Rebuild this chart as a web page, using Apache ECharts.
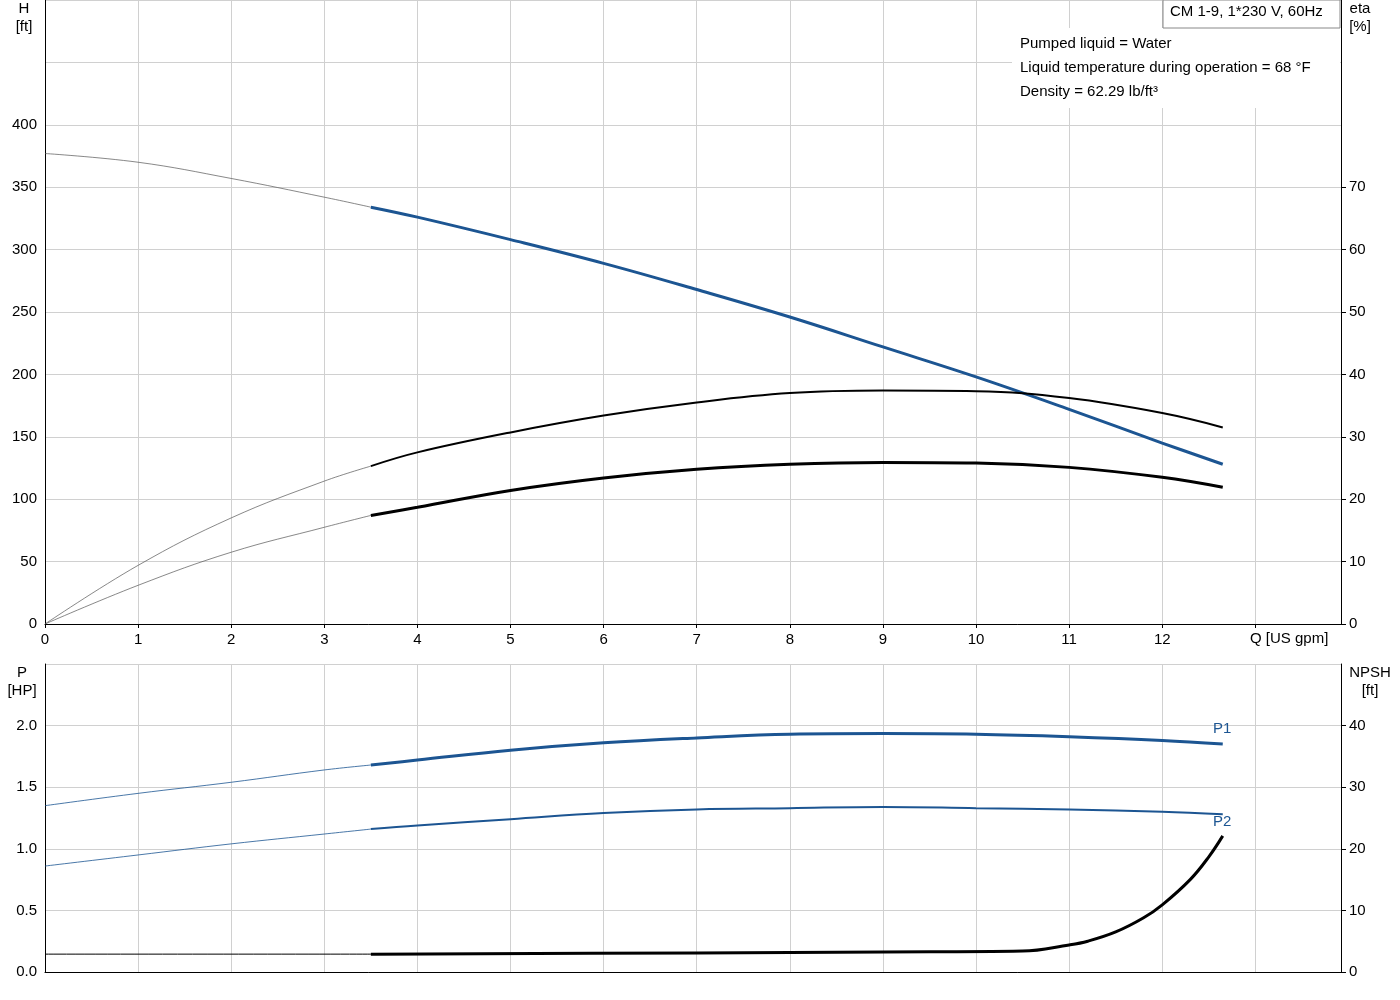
<!DOCTYPE html>
<html><head><meta charset="utf-8">
<script src="https://cdn.jsdelivr.net/npm/echarts@6/dist/echarts.min.js"></script>
<style>html,body{margin:0;padding:0;background:#fff}#c{width:1400px;height:1000px}</style>
</head><body><div id="c"></div>
<script>
const qThin=[0,1,2,3,3.5];
const qThick=[3.5,4,5,6,7,8,9,10,11,12,12.65];
const hThin=[377,370,357,342,334];
const hThick=[334,326,308,289,268,246,222,198,172,145,128];
const etaAThin=[0,9.4,17,22.9,25.3];
const etaAThick=[25.3,27.5,30.7,33.4,35.5,37,37.4,37.3,36.2,33.8,31.5];
const etaBThin=[0,6.2,11.5,15.5,17.4];
const etaBThick=[17.4,18.7,21.4,23.4,24.8,25.6,25.9,25.8,25.1,23.5,21.9];
const p1Thin=[1.35,1.45,1.54,1.64,1.68];
const p1Thick=[1.68,1.72,1.80,1.86,1.90,1.93,1.935,1.93,1.91,1.88,1.85];
const p2Thin=[0.86,0.95,1.04,1.12,1.16];
const p2Thick=[1.16,1.19,1.24,1.29,1.32,1.33,1.34,1.33,1.32,1.30,1.28];
const npshThinQ=[0,3.5];
const npshThin=[2.9,2.9];
const npshQ=[3.5,7,9,10.5,11,11.2,11.5,11.8,12,12.3,12.5,12.65];
const npsh=[2.9,3.1,3.25,3.4,4.4,5.0,6.5,8.8,10.9,15,18.7,22.1];
const z=(a,b)=>a.map((x,i)=>[x,b[i]]);
const blue='#1c5592';
const grid='#d0d0d0';
const font='"Liberation Sans", Arial, sans-serif';
const ch=echarts.init(document.getElementById('c'));
const xBase=(gi,show)=>({type:'value',gridIndex:gi,min:0,max:13.92,interval:1,
 axisLine:{show:true,onZero:false,lineStyle:{color:'#000'}},axisTick:{show:show,length:4,lineStyle:{color:'#000'}},
 splitLine:{show:true,lineStyle:{color:grid}},
 axisLabel:{show:show,color:'#000',fontSize:15,fontFamily:font,showMaxLabel:false,
  formatter:v=>v>=13?'':String(v)}});
const line=(x,y,d,c,w)=>({type:'line',xAxisIndex:x,yAxisIndex:y,data:d,showSymbol:false,symbol:'none',smooth:0.4,lineStyle:{color:c,width:w},silent:true,animation:false});
ch.setOption({
 animation:false,
 grid:[{left:45,right:59,top:0,height:624},{left:45,right:59,top:664,height:308}],
 xAxis:[xBase(0,true),xBase(1,false)],
 yAxis:[
  {type:'value',gridIndex:0,min:0,max:500,interval:50,axisLine:{show:true,lineStyle:{color:'#000'}},axisTick:{show:false},
   splitLine:{lineStyle:{color:grid}},axisLabel:{color:'#000',fontSize:15,fontFamily:font,formatter:v=>v>400?'':v}},
  {type:'value',gridIndex:0,position:'right',min:0,max:100,interval:10,axisLine:{show:true,lineStyle:{color:'#000'}},
   axisTick:{show:true,length:5,lineStyle:{color:'#000'},customValues:[0,10,20,30,40,50,60,70]},splitLine:{show:false},
   axisLabel:{color:'#000',fontSize:15,fontFamily:font,customValues:[0,10,20,30,40,50,60,70]}},
  {type:'value',gridIndex:1,min:0,max:2.5,interval:0.5,axisLine:{show:true,lineStyle:{color:'#000'}},axisTick:{show:false},
   splitLine:{lineStyle:{color:grid}},axisLabel:{color:'#000',fontSize:15,fontFamily:font,formatter:v=>v>2?'':v.toFixed(1)}},
  {type:'value',gridIndex:1,position:'right',min:0,max:50,interval:10,axisLine:{show:true,lineStyle:{color:'#000'}},
   axisTick:{show:true,length:5,lineStyle:{color:'#000'},customValues:[0,10,20,30,40]},splitLine:{show:false},
   axisLabel:{color:'#000',fontSize:15,fontFamily:font,customValues:[0,10,20,30,40]}}
 ],
 series:[
  line(0,0,z(qThin,hThin),'#555',0.7),
  line(0,0,z(qThick,hThick),blue,3),
  line(0,1,z(qThin,etaAThin),'#555',0.7),
  line(0,1,z(qThick,etaAThick),'#000',2),
  line(0,1,z(qThin,etaBThin),'#555',0.7),
  line(0,1,z(qThick,etaBThick),'#000',3),
  line(1,2,z(qThin,p1Thin),blue,0.8),
  line(1,2,z(qThick,p1Thick),blue,3),
  line(1,2,z(qThin,p2Thin),blue,0.8),
  line(1,2,z(qThick,p2Thick),blue,2),
  line(1,3,z(npshThinQ,npshThin),'#000',1),
  line(1,3,z(npshQ,npsh),'#000',3)
 ],
 graphic:[
  {type:'rect',shape:{x:1012,y:28,width:328,height:80},style:{fill:'#fff'},z:100},
  {type:'text',x:1020,y:36,style:{text:'Pumped liquid = Water',font:'15px '+font,fill:'#000'},z:101},
  {type:'text',x:1020,y:60,style:{text:'Liquid temperature during operation = 68 °F',font:'15px '+font,fill:'#000'},z:101},
  {type:'text',x:1020,y:84,style:{text:'Density = 62.29 lb/ft³',font:'15px '+font,fill:'#000'},z:101},
  {type:'rect',shape:{x:1163,y:0,width:177,height:28},style:{fill:'#fff',stroke:'#888',lineWidth:1},z:100},
  {type:'text',x:1170,y:4,style:{text:'CM 1-9, 1*230 V, 60Hz',font:'15px '+font,fill:'#000'},z:101},
  {type:'text',x:1250,y:631,style:{text:'Q [US gpm]',font:'15px '+font,fill:'#000'},z:101},
  {type:'text',x:24,y:0,style:{text:'H\n[ft]',font:'15px '+font,fill:'#000',align:'center',lineHeight:18},z:101},
  {type:'text',x:1360,y:0,style:{text:'eta\n[%]',font:'15px '+font,fill:'#000',align:'center',lineHeight:18},z:101},
  {type:'text',x:22,y:664,style:{text:'P\n[HP]',font:'15px '+font,fill:'#000',align:'center',lineHeight:18},z:101},
  {type:'text',x:1370,y:664,style:{text:'NPSH\n[ft]',font:'15px '+font,fill:'#000',align:'center',lineHeight:18},z:101},
  {type:'text',x:1213,y:721,style:{text:'P1',font:'15px '+font,fill:blue},z:101},
  {type:'text',x:1213,y:814,style:{text:'P2',font:'15px '+font,fill:blue},z:101}
 ]
});
</script></body></html>
